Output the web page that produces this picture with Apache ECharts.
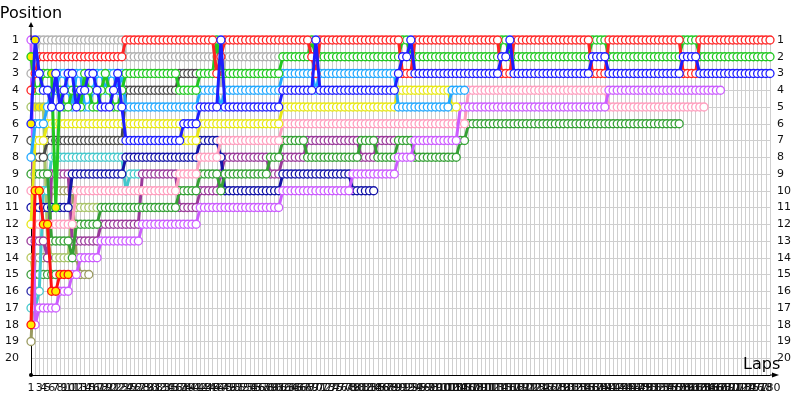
<!DOCTYPE html>
<html><head><meta charset="utf-8">
<script src="https://cdn.jsdelivr.net/npm/echarts@6/dist/echarts.min.js"></script>
<style>html,body{margin:0;padding:0;background:#fff}#c{width:800px;height:400px}</style>
</head><body><div id="c"></div>
<script>
// ---- data: each driver = segments [position, fromLap, toLap] ----
const totalLaps = 180;
const posMin = 1, posMax = 21;

const redSeg = [[4,1,1],[3,2,2],[2,3,23],[1,24,45],[3,46,46],[2,47,47],[1,48,68],[2,69,69],[3,70,70],[1,71,90],[3,91,93],[1,94,114],[3,115,117],[1,118,136],[3,137,140],[1,141,158],[3,159,162],[1,163,180]];
const greenSeg = [[2,1,1],[4,2,2],[3,24,36],[4,37,41],[3,42,45],[1,46,46],[3,47,61],[2,62,68],[1,69,69],[2,70,90],[1,91,92],[2,93,114],[1,115,116],[2,117,136],[1,137,140],[2,141,158],[1,159,162],[2,163,180]];
const greenEarly = [4,3,3,3,11,4,5,5,4,4,5,3,4,5,5,4,3,4,5,5,4]; // laps 3-23
const blueSeg = [[6,1,1],[1,2,2],[7,24,37],[6,38,41],[5,42,46],[1,47,47],[5,48,61],[4,62,69],[1,70,70],[4,71,89],[3,90,90],[2,91,92],[1,93,93],[3,94,114],[2,115,116],[1,117,117],[3,118,136],[2,137,140],[3,141,158],[2,159,162],[3,163,180]];
const blueEarly = [3,4,4,5,3,5,4,3,3,5,4,4,3,3,4,5,5,5,4,3,5];
const lightBlueSeg = [[8,1,1],[6,2,2],[5,24,41],[4,42,46],[5,47,47],[4,48,61],[3,62,69],[4,70,70],[3,71,89],[5,90,102],[4,103,106]];
const lightBlueEarly = [6,6,5,4,4,3,3,4,5,3,3,5,5,4,3,3,4,3,3,4,3];
const greySeg = [[3,1,1],[2,2,2],[1,3,23],[2,24,46],[4,47,47],[2,48,61]];
const yellowSeg = [[12,1,1],[7,2,4],[6,5,37],[7,38,41],[6,42,61],[5,62,89],[4,90,102],[5,103,104]];
const darkGreySeg = [[7,1,1],[8,2,4],[7,5,23],[4,24,36],[3,37,41]];
const violetSeg = [[1,1,1],[18,2,2],[17,3,7],[16,8,10],[15,11,12],[14,13,17],[13,18,27],[12,28,41],[11,42,61],[10,62,78],[9,79,89],[8,90,93],[7,94,104],[5,105,140],[4,141,168]];
const pinkSeg = [[10,1,1],[12,2,11],[10,12,36],[9,37,41],[8,42,46],[7,47,61],[6,62,106],[4,107,140],[5,141,164]];
const darkGreenSeg = [[9,1,5],[13,6,10],[14,11,11],[12,12,17],[11,18,36],[10,37,41],[9,42,46],[10,47,47],[9,48,58],[8,59,61],[7,62,67],[8,68,80],[7,81,84],[8,85,89],[7,90,93],[8,94,104],[7,105,106],[6,107,158]];
const purpleSeg = [[13,1,4],[14,5,5],[9,6,10],[13,11,17],[12,18,27],[9,28,36],[11,37,41],[10,42,46],[9,47,47],[8,48,58],[9,59,61],[8,62,67],[7,68,80],[8,81,84],[7,85,89]];
const navySeg = [[11,1,10],[9,11,23],[8,24,41],[7,42,46],[8,47,47],[10,48,61],[9,62,78],[10,79,84]];
const cyanSeg = [[17,1,2],[16,3,3],[10,4,5],[8,6,23],[10,24,24],[9,25,27]];
const oliveSeg = [[19,1,1],[14,2,5],[10,6,11],[14,12,12],[15,13,15]];
const redYellowSeg = [[18,1,1],[10,2,3],[12,4,5],[16,6,7],[15,8,10]];
const lightGreenSeg = [[5,1,4],[13,5,5],[14,6,10],[11,11,17]];
const limeSeg = [[14,1,1],[16,2,2]];
const green15Seg = [[15,1,7]];
const navy16Seg = [[16,1,1]];

// laps drawn with a yellow filled marker
const blueFilled = [1,2];
const greenFilled = [1,6,7];
const lightGreenFilled = [2,3,4];

// ---- build ----
function expand(segs, early, earlyStart) {
  const pos = {};
  segs.forEach(s => { for (let l = s[1]; l <= s[2]; l++) pos[l] = s[0]; });
  if (early) early.forEach((p, i) => { pos[earlyStart + i] = p; });
  return Object.keys(pos).map(Number).sort((a, b) => a - b).map(l => [l, pos[l]]);
}

const drivers = [
  {name:'N16', segs:navy16Seg, color:'#2a2aa8'},
  {name:'G15', segs:green15Seg, color:'#3f9f3f'},
  {name:'Lime', segs:limeSeg, color:'#b8c860'},
  {name:'Olive', segs:oliveSeg, color:'#9a9a60'},
  {name:'LightGreen', segs:lightGreenSeg, color:'#a8c46a', filled:lightGreenFilled},
  {name:'Cyan', segs:cyanSeg, color:'#44c8cc'},
  {name:'DarkGrey', segs:darkGreySeg, color:'#4a4a4a'},
  {name:'Purple', segs:purpleSeg, color:'#9a3a9a'},
  {name:'Navy', segs:navySeg, color:'#1414a8'},
  {name:'DarkGreen', segs:darkGreenSeg, color:'#35a035'},
  {name:'Pink', segs:pinkSeg, color:'#ff9ebe'},
  {name:'Violet', segs:violetSeg, color:'#cc5cff'},
  {name:'Yellow', segs:yellowSeg, color:'#e8e814'},
  {name:'LightBlue', segs:lightBlueSeg, early:lightBlueEarly, color:'#22a8ff'},
  {name:'Grey', segs:greySeg, color:'#b0b0b0'},
  {name:'RedYellow', segs:redYellowSeg, color:'#ff1010', fillAll:'#ffee00'},
  {name:'Green', segs:greenSeg, early:greenEarly, color:'#22c822', filled:greenFilled},
  {name:'Red', segs:redSeg, color:'#ff2424'},
  {name:'Blue', segs:blueSeg, early:blueEarly, color:'#1e1eff', filled:blueFilled}
];

const series = drivers.map((d, i) => {
  const pts = expand(d.segs, d.early, 3);
  return {
    type:'line', name:d.name, z: 2 + i * 0.01,
    data: pts.map(p => {
      const item = {value:p};
      if (d.fillAll || (d.filled && d.filled.indexOf(p[0]) >= 0)) item.itemStyle = {color: d.fillAll || '#ffee00'};
      return item;
    }),
    symbol:'circle', symbolSize:8, showAllSymbol:true,
    lineStyle:{color:d.color, width:3},
    itemStyle:{color:'#ffffff', borderColor:d.color, borderWidth:1.3},
    emphasis:{disabled:true}, animation:false, silent:true
  };
});

const chart = echarts.init(document.getElementById('c'), null, {renderer:'canvas'});
const FONT = 'DejaVu Sans';
chart.setOption({
  animation:false,
  backgroundColor:'#ffffff',
  grid:{left:31, right:30, top:40, bottom:25, containLabel:false, outerBoundsMode:'none'},
  xAxis:{
    type:'value', min:1, max:totalLaps, interval:1,
    axisLine:{show:true, lineStyle:{color:'#000', width:1}},
    axisTick:{show:false},
    axisLabel:{fontSize:11, color:'#111', margin:8, fontFamily:FONT, hideOverlap:false, showMinLabel:true, showMaxLabel:true},
    splitLine:{show:true, lineStyle:{color:'#cfcfcf', width:1}},
    name:'Laps', nameLocation:'end', nameGap:-27, nameMoveOverlap:false,
    nameTextStyle:{fontSize:16, color:'#000', align:'left', verticalAlign:'bottom', fontFamily:FONT, padding:[0,0,2,0]}
  },
  yAxis:[{
    type:'value', min:posMin, max:posMax, interval:1, inverse:true,
    axisLine:{show:true, lineStyle:{color:'#000', width:1}},
    axisTick:{show:false},
    axisLabel:{fontSize:11, color:'#111', margin:12, fontFamily:FONT, showMinLabel:true, formatter:v => (v <= 20 ? String(v) : '')},
    splitLine:{show:true, lineStyle:{color:'#cfcfcf', width:1}},
    name:'Position', nameLocation:'start', nameGap:18, nameMoveOverlap:false,
    nameTextStyle:{fontSize:16, color:'#000', align:'center', verticalAlign:'bottom', fontFamily:FONT}
  },{
    type:'value', min:posMin, max:posMax, interval:1, inverse:true, position:'right',
    axisLine:{show:false}, axisTick:{show:false}, splitLine:{show:false},
    axisLabel:{fontSize:11, color:'#111', margin:7, fontFamily:FONT, showMinLabel:true, formatter:v => (v <= 20 ? String(v) : '')}
  }],
  graphic:[
    {type:'line', shape:{x1:31, y1:40, x2:31, y2:26}, style:{stroke:'#000', lineWidth:1}, z:100},
    {type:'polygon', shape:{points:[[31,22],[28.5,27],[33.5,27]]}, style:{fill:'#000'}, z:100},
    {type:'line', shape:{x1:770, y1:375, x2:774, y2:375}, style:{stroke:'#000', lineWidth:1}, z:100},
    {type:'polygon', shape:{points:[[779,375],[772,372.5],[772,377.5]]}, style:{fill:'#000'}, z:100},
    {type:'circle', shape:{cx:31, cy:375, r:2}, style:{fill:'#000'}, z:100}
  ],
  series: series
});
</script></body></html>
